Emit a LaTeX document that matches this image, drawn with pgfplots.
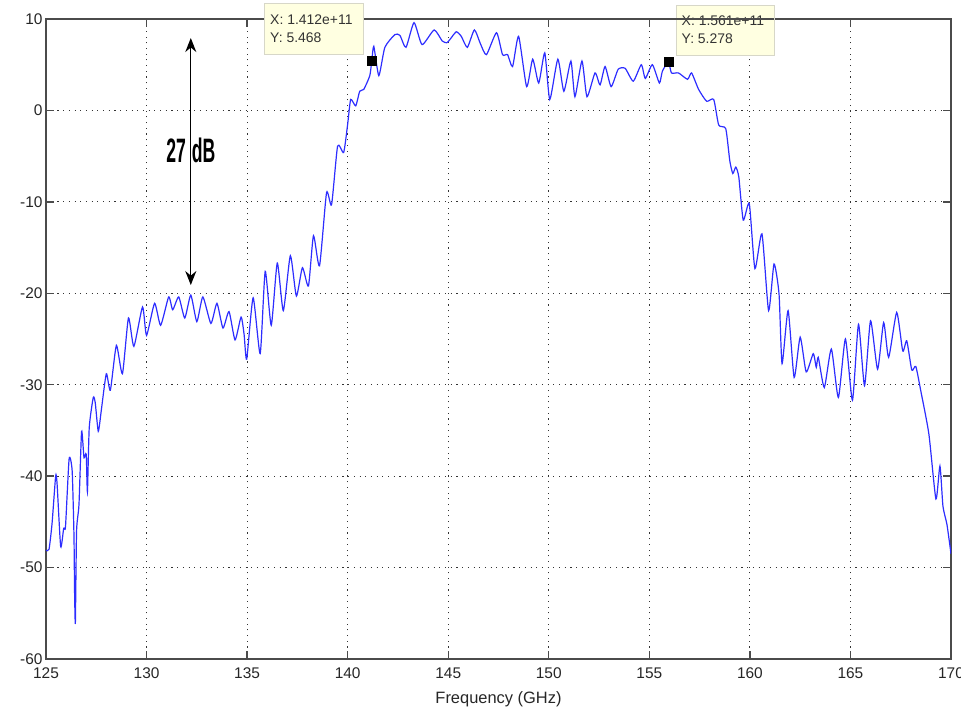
\documentclass[border=0pt]{standalone}
\usepackage{pgfplots}
\pgfplotsset{compat=1.18}
\usepackage{graphicx}
\usepackage{fontspec}
\setmainfont{Liberation Sans}
\usetikzlibrary{arrows.meta}
\definecolor{tipbg}{RGB}{255,255,225}
\definecolor{tipedge}{RGB}{215,215,200}
\definecolor{axgray}{RGB}{75,75,75}
\definecolor{curve}{RGB}{45,45,255}

\pgfplotstableread{
x y
125.0 -48.1
125.15 -48.0
125.3 -45.2
125.48 -40.0
125.55 -40.8
125.73 -47.7
125.88 -45.7
125.97 -45.5
126.15 -38.1
126.3 -39.4
126.39 -46.4
126.42 -52.5
126.46 -56.1
126.52 -46.0
126.64 -43.1
126.77 -35.1
126.89 -38.0
127.0 -37.6
127.06 -41.7
127.15 -34.7
127.35 -31.4
127.45 -32.0
127.6 -35.1
127.75 -32.8
128.0 -28.8
128.2 -30.6
128.5 -25.7
128.8 -28.8
129.1 -22.7
129.37 -25.8
129.8 -21.5
130.0 -24.6
130.4 -21.1
130.7 -23.5
131.1 -20.4
131.3 -21.8
131.6 -20.4
131.9 -22.7
132.2 -20.2
132.5 -23.1
132.8 -20.4
133.2 -23.3
133.5 -21.1
133.8 -23.8
134.1 -22.0
134.4 -25.1
134.7 -22.6
134.85 -24.5
134.98 -27.2
135.3 -20.5
135.65 -26.6
135.9 -17.6
136.2 -23.5
136.5 -16.7
136.8 -21.9
137.15 -15.9
137.45 -20.3
137.75 -17.2
138.05 -19.2
138.3 -13.7
138.6 -17.0
138.95 -9.0
139.2 -10.3
139.5 -3.9
139.8 -4.6
140.0 -1.5
140.15 1.2
140.4 0.5
140.6 2.1
140.8 2.3
141.1 3.8
141.2 5.468
141.3 7.0
141.55 3.8
141.85 6.9
142.35 8.3
142.6 8.2
142.9 6.9
143.3 9.6
143.7 7.2
144.3 8.8
144.7 7.6
144.93 7.4
145.1 7.8
145.4 8.6
145.65 8.1
145.95 6.9
146.3 8.8
146.6 7.3
146.9 6.1
147.4 8.5
147.7 6.1
147.95 6.1
148.2 4.8
148.5 8.1
148.9 2.6
149.2 5.6
149.5 3.0
149.8 6.3
150.05 1.2
150.45 5.6
150.75 2.1
151.1 5.4
151.3 1.5
151.65 5.4
151.9 1.5
152.3 4.1
152.55 2.8
152.8 4.8
153.1 2.6
153.45 4.5
153.8 4.6
154.2 3.2
154.6 5.0
154.8 3.5
155.15 5.0
155.5 3.0
155.65 4.3
155.95 5.3
156.1 4.1
156.45 4.1
156.9 3.4
157.1 4.1
157.45 2.3
157.85 1.0
158.2 1.2
158.45 -1.6
158.8 -2.0
159.0 -5.5
159.15 -6.9
159.3 -6.2
159.45 -7.3
159.67 -12.0
159.97 -10.2
160.25 -17.3
160.6 -13.5
160.93 -21.9
161.2 -16.8
161.45 -20.1
161.6 -27.7
161.9 -21.9
162.2 -29.2
162.5 -24.8
162.8 -28.6
163.15 -26.6
163.3 -28.1
163.4 -27.0
163.7 -30.3
164.05 -26.1
164.4 -31.4
164.75 -25.0
165.1 -31.7
165.4 -23.4
165.7 -30.1
166.0 -23.0
166.35 -28.3
166.65 -23.2
166.9 -27.0
167.3 -22.1
167.6 -26.3
167.8 -25.2
168.05 -28.4
168.25 -28.0
168.5 -30.7
168.9 -35.4
169.25 -42.5
169.45 -38.9
169.6 -43.3
169.8 -45.3
170.0 -48.5
}\spectrum

\pgfplotstableread{
x y
141.2 5.468
155.95 5.278
}\tips

\begin{document}
\begin{tikzpicture}
\begin{axis}[name=ax, scale only axis, width=905bp, height=640bp,
  xmin=125, xmax=170, ymin=-60, ymax=10,
  xtick={125,130,...,170}, ytick={-60,-50,...,10},
  grid=major,
  major grid style={black!80, line width=0.8bp, dash pattern=on 1.1bp off 4.6bp},
  tick align=inside, tick pos=both, major tick length=8bp,
  axis line style={axgray, line width=1.3bp},
  every tick/.style={axgray, line width=1.3bp},
  tick label style={font=\fontsize{15.5}{18}\selectfont, text=black!85},
  xticklabel style={yshift=-5bp},
  /pgf/number format/assume math mode=true,
  xlabel={Frequency (GHz)},
  xlabel style={font=\fontsize{16.5}{19}\selectfont, text=black!85, yshift=-6bp},
]
\addplot[curve, line width=1.2bp, smooth, tension=0.35] table[x=x,y=y] {\spectrum};
\addplot[only marks, mark=square*, mark size=4.5bp, black] table[x=x,y=y] {\tips};
\draw[black, line width=1.3bp, {Stealth[length=14bp,width=11bp]}-{Stealth[length=14bp,width=11bp]}]
  (axis cs:132.2,7.92) -- (axis cs:132.2,-19.1);
\node[font=\fontsize{34}{34}\selectfont\bfseries, inner sep=0pt] at (axis cs:132.2,-4.4)
  {\scalebox{0.52}[1]{27\,\,dB}};
\coordinate (b1a) at (axis cs:135.84,11.75);
\coordinate (b1b) at (axis cs:140.76,6.17);
\coordinate (t1a) at (axis cs:136.14,9.95);
\coordinate (t1b) at (axis cs:136.14,7.98);
\coordinate (b2a) at (axis cs:156.33,11.53);
\coordinate (b2b) at (axis cs:161.2,6.06);
\coordinate (t2a) at (axis cs:156.6,9.78);
\coordinate (t2b) at (axis cs:156.6,7.80);
\coordinate (l2a) at (axis cs:156.33,10);
\coordinate (l2b) at (axis cs:161.2,10);
\end{axis}
\draw[fill=tipbg, draw=tipedge, line width=0.8bp] (b1a) rectangle (b1b);
\node[anchor=west, inner sep=0pt, font=\fontsize{14}{16}\selectfont, text=black!80] at (t1a) {X: 1.412e+11};
\node[anchor=west, inner sep=0pt, font=\fontsize{14}{16}\selectfont, text=black!80] at (t1b) {Y: 5.468};
\draw[fill=tipbg, draw=tipedge, line width=0.8bp] (b2a) rectangle (b2b);
\node[anchor=west, inner sep=0pt, font=\fontsize{14}{16}\selectfont, text=black!80] at (t2a) {X: 1.561e+11};
\node[anchor=west, inner sep=0pt, font=\fontsize{14}{16}\selectfont, text=black!80] at (t2b) {Y: 5.278};
\draw[axgray, line width=1.3bp] (l2a) -- (l2b);
\pgfresetboundingbox
\path ([shift={(-46bp,-49bp)}]ax.south west) rectangle ([shift={(10bp,19bp)}]ax.north east);
\end{tikzpicture}
\end{document}
